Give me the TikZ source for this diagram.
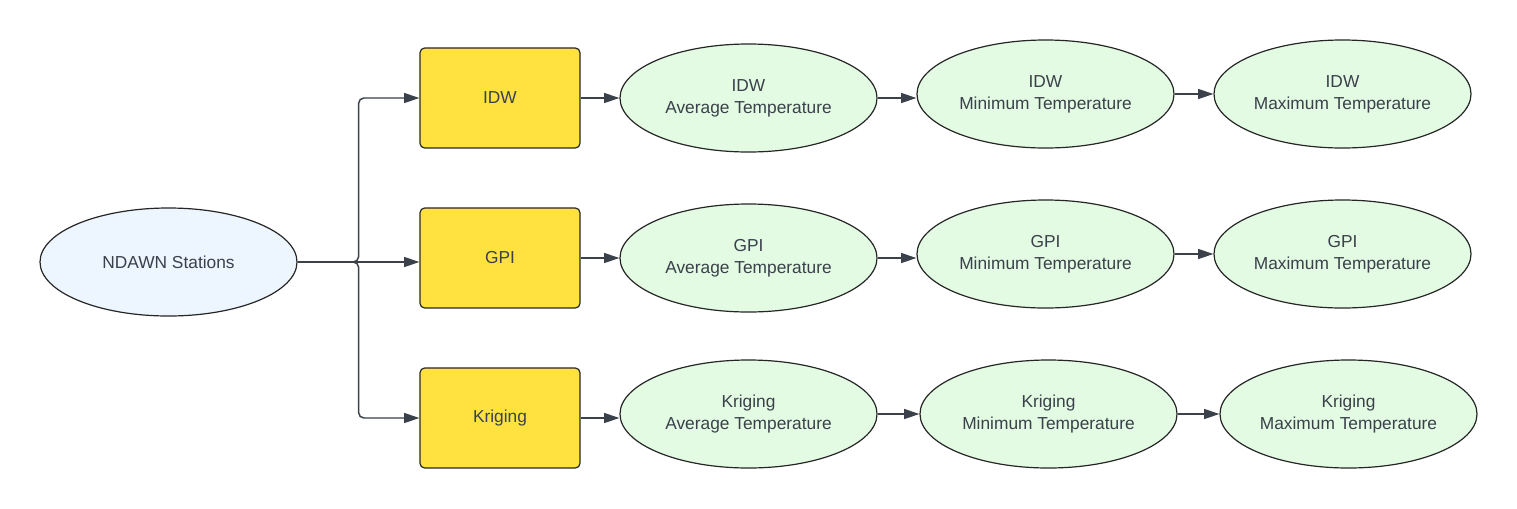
\documentclass[tikz,border=0pt]{standalone}
\usepackage{fontspec}
\setmainfont{Liberation Sans}
\usepackage{xcolor}
\usetikzlibrary{arrows.meta, positioning, shapes.geometric}

\definecolor{boxyellow}{HTML}{FFE240}
\definecolor{mapgreen}{HTML}{E3FAE3}
\definecolor{stationblue}{HTML}{EDF5FF}
\definecolor{linegray}{HTML}{3A414A}
\definecolor{textgray}{HTML}{3A414A}

\begin{document}
\begin{tikzpicture}[x=0.75pt, y=-0.75pt]
    % Block styles
    \tikzstyle{method} = [rectangle, draw=black!85, line width=0.9pt, rounded corners=3.5pt, fill=boxyellow, text=textgray, minimum width=120pt, minimum height=75pt, font=\fontsize{13}{16.3}\selectfont]
    \tikzstyle{surface} = [ellipse, draw=black!85, line width=0.9pt, fill=mapgreen, text=textgray, inner sep=0pt, minimum width=192.75pt, minimum height=81pt, align=center, font=\fontsize{13}{16.3}\selectfont]
    \tikzstyle{conn} = [draw=linegray, line width=1.1pt, -{Triangle[length=11.5pt, width=7.5pt]}]
    \useasboundingbox (0,0) rectangle (1517,508);
    % Interpolation methods
    \node[method] (idw) at (500,98) {IDW};
    \node[method, below=44.1pt of idw] (gpi) {GPI};
    \node[method, below=44.1pt of gpi] (kriging) {Kriging};
    % Input
    \node[surface, fill=stationblue, left=91.35pt of gpi, yshift=-3pt] (ndawn) {NDAWN Stations};
    % Temperature surfaces
    \node[surface, right=29.1pt of idw] (idwavg) {IDW\\Average Temperature};
    \node[surface, right=29.1pt of idwavg, yshift=3pt] (idwmin) {IDW\\Minimum Temperature};
    \node[surface, right=29.1pt of idwmin] (idwmax) {IDW\\Maximum Temperature};
    \node[surface, right=29.1pt of gpi] (gpiavg) {GPI\\Average Temperature};
    \node[surface, right=29.1pt of gpiavg, yshift=3pt] (gpimin) {GPI\\Minimum Temperature};
    \node[surface, right=29.1pt of gpimin] (gpimax) {GPI\\Maximum Temperature};
    \node[surface, right=29.1pt of kriging, yshift=3pt] (kriavg) {Kriging\\Average Temperature};
    \node[surface, right=31.35pt of kriavg] (krimin) {Kriging\\Minimum Temperature};
    \node[surface, right=31.35pt of krimin] (krimax) {Kriging\\Maximum Temperature};
    % Connections
    \draw[conn, rounded corners=4pt] (ndawn.east) -- ++(61,0) |- (idw.west);
    \draw[conn] (ndawn.east) -- (ndawn.east -| gpi.west);
    \draw[conn, rounded corners=4pt] (ndawn.east) -- ++(61,0) |- (kriging.west);
    \draw[conn] (idw.east) -- (idw.east -| idwavg.west);
    \draw[conn] (idwavg.east) -- (idwavg.east -| idwmin.west);
    \draw[conn] (idwmin.east) -- (idwmax.west);
    \draw[conn] (gpi.east) -- (gpi.east -| gpiavg.west);
    \draw[conn] (gpiavg.east) -- (gpiavg.east -| gpimin.west);
    \draw[conn] (gpimin.east) -- (gpimax.west);
    \draw[conn] (kriging.east) -- (kriging.east -| kriavg.west);
    \draw[conn] (kriavg.east) -- (krimin.west);
    \draw[conn] (krimin.east) -- (krimax.west);
\end{tikzpicture}
\end{document}
